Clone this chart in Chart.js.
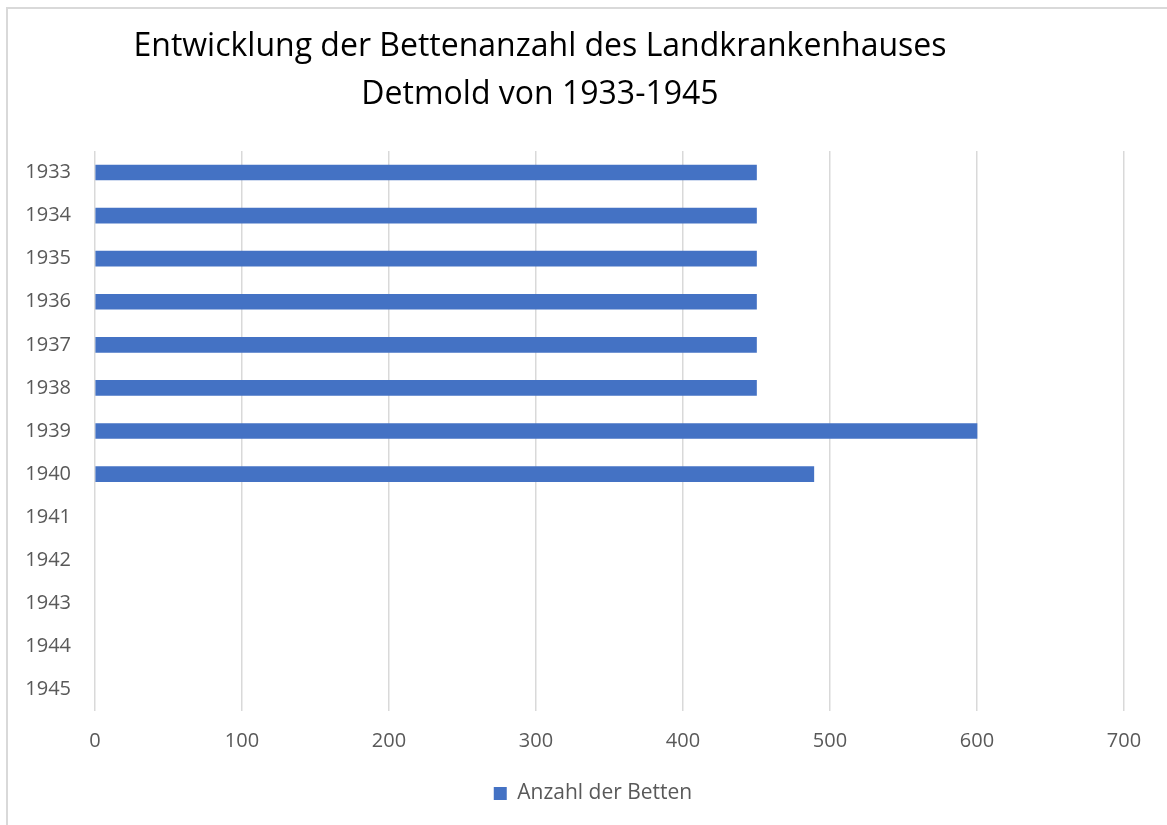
<!DOCTYPE html>
<html>
<head>
<meta charset="utf-8">
<script src="https://cdn.jsdelivr.net/npm/chart.js@4"></script>
<style>
  html, body { margin: 0; padding: 0; background: #fff; overflow: hidden; }
  #frame { position: absolute; left: 6px; top: 7px; width: 1300px; height: 900px;
           border-left: 2px solid #d9d9d9; border-top: 2px solid #d9d9d9; }
  #chart { position: absolute; left: 0; top: 0; }
</style>
</head>
<body>
<div id="frame"></div>
<canvas id="chart" width="1167" height="825"></canvas>
<script>
const titleLines = [
    "Entwicklung der Bettenanzahl des Landkrankenhauses",
    "Detmold von 1933-1945",
];
const years = ["1933", "1934", "1935", "1936", "1937", "1938", "1939",
    "1940", "1941", "1942", "1943", "1944", "1945"];
const beds = [450, 450, 450, 450, 450, 450, 600, 489, null, null, null, null, null];
const seriesName = "Anzahl der Betten";

const fontFamily = "'Open Sans', 'Noto Sans', sans-serif";

// Excel puts the title a bit left of centre, so draw it ourselves
const titlePlugin = {
    id: "excelTitle",
    afterDraw(chart) {
        const ctx = chart.ctx;
        ctx.save();
        ctx.font = "32px " + fontFamily;
        ctx.fillStyle = "#000000";
        ctx.textAlign = "center";
        ctx.textBaseline = "alphabetic";
        titleLines.forEach((line, i) => {
            ctx.fillText(line, 540, 56 + i * 48);
        });
        ctx.restore();
    },
};

// legend sits a little right of the canvas centre in the original
const legendNudge = {
    id: "legendNudge",
    afterLayout(chart) {
        chart.legend.left += 31;
        chart.legend.right += 31;
    },
};

new Chart(document.getElementById("chart"), {
    type: "bar",
    data: {
        labels: years,
        datasets: [
            {
                label: seriesName,
                data: beds,
                backgroundColor: "#4472C4",
                borderWidth: 0,
                barThickness: 15,
            },
        ],
    },
    options: {
        indexAxis: "y",
        responsive: false,
        animation: false,
        devicePixelRatio: 1,
        layout: { padding: { top: 151, left: 0, right: 43, bottom: 11 } },
        scales: {
            x: {
                min: 0,
                max: 700,
                ticks: {
                    stepSize: 100,
                    color: "#595959",
                    font: { family: fontFamily, size: 20 },
                    padding: 18,
                },
                grid: { color: "#d9d9d9", lineWidth: 1.5, drawTicks: false },
                border: { display: false },
                afterFit(scale) { scale.height = 62; },
            },
            y: {
                ticks: {
                    color: "#595959",
                    font: { family: fontFamily, size: 20 },
                    padding: 24,
                },
                grid: { display: false, drawTicks: false },
                border: { display: false },
                afterFit(scale) { scale.width = 95; },
            },
        },
        plugins: {
            title: { display: false },
            tooltip: { enabled: false },
            legend: {
                position: "bottom",
                labels: {
                    boxWidth: 13,
                    boxHeight: 13,
                    color: "#595959",
                    font: { family: fontFamily, size: 21 },
                },
            },
        },
    },
    plugins: [titlePlugin, legendNudge],
});
</script>
</body>
</html>
